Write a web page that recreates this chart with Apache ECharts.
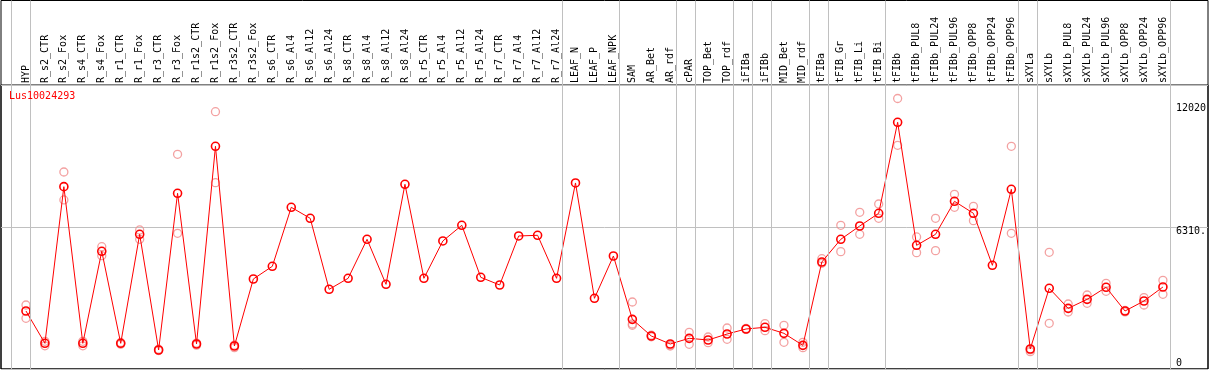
<!DOCTYPE html>
<html><head><meta charset="utf-8">
<script src="https://cdn.jsdelivr.net/npm/echarts@6/dist/echarts.min.js"></script>
<style>html,body{margin:0;padding:0;background:#fff}#c{width:1209px;height:370px}</style>
</head><body><div id="c"></div>
<script>
const TITLE = 'Lus10024293';
const CATEGORIES = ['HYP','R_s2_CTR','R_s2_Fox','R_s4_CTR','R_s4_Fox','R_r1_CTR','R_r1_Fox','R_r3_CTR','R_r3_Fox','R_r1s2_CTR','R_r1s2_Fox','R_r3s2_CTR','R_r3s2_Fox','R_s6_CTR','R_s6_Al4','R_s6_Al12','R_s6_Al24','R_s8_CTR','R_s8_Al4','R_s8_Al12','R_s8_Al24','R_r5_CTR','R_r5_Al4','R_r5_Al12','R_r5_Al24','R_r7_CTR','R_r7_Al4','R_r7_Al12','R_r7_Al24','LEAF_N','LEAF_P','LEAF_NPK','SAM','AR_Bet','AR_rdf','cPAR','TOP_Bet','TOP_rdf','iFIBa','iFIBb','MID_Bet','MID_rdf','tFIBa','tFIB_Gr','tFIB_Li','tFIB_Bi','tFIBb','tFIBb_PUL8','tFIBb_PUL24','tFIBb_PUL96','tFIBb_OPP8','tFIBb_OPP24','tFIBb_OPP96','sXYLa','sXYLb','sXYLb_PUL8','sXYLb_PUL24','sXYLb_PUL96','sXYLb_OPP8','sXYLb_OPP24','sXYLb_OPP96'];
const MEAN = [2578,1141,8102,1141,5230,1141,5985,844,7807,1111,9896,1022,4000,4563,7185,6696,3541,4030,5763,3763,8207,4030,5689,6385,4074,3733,5911,5941,4030,8267,3141,5022,2207,1467,1111,1363,1289,1555,1778,1852,1585,1052,4755,5763,6355,6918,10963,5496,5985,7452,6918,4607,7985,889,3585,2696,3096,3630,2578,3022,3644];
const REP_A = [2844,1230,8755,1230,5436,1180,6178,880,9541,1150,11435,1060,null,null,null,null,null,null,null,null,null,null,null,null,null,null,null,null,null,null,null,null,2978,1500,1060,1630,1422,1822,1800,2015,1941,1185,4903,6385,6963,7333,12020,5867,6696,7763,7230,null,9896,770,5185,2889,3289,3807,2600,3170,3941];
const REP_B = [2252,1030,7511,1030,5036,1100,5763,820,6030,1060,8280,950,null,null,null,null,null,null,null,null,null,null,null,null,null,null,null,null,null,null,null,null,2000,1430,1020,1096,1170,1319,1760,1704,1185,948,4700,5215,5985,6696,9941,5170,5259,7185,6592,null,6030,850,2030,2533,2918,3452,2540,2844,3319];
const REP_C = [null,null,null,null,null,null,null,null,null,null,null,null,null,null,null,null,null,null,null,null,null,null,null,null,null,null,null,null,null,null,null,null,1941,null,null,null,null,null,null,null,null,null,null,null,null,null,null,null,null,null,null,null,null,null,null,null,null,null,null,null,null];
const GROUP_ENDS = [-1,0,28,31,34,35,37,38,39,41,42,45,52,53,60];
const Y_MAX = 12620;
const Y_GRID_STEP = 6310;
const Y_TICK_VALUES = [12020, 6310, 0];
const Y_TICK_LABELS = ['12020', '6310.', '0'];

const FONT = 'DejaVu Sans Mono';
const X0 = 26, STEP = 19, TOP = 85, BOTTOM = 1;
const FRAME_L = 1, FRAME_R = 1208;
const SEP_OFFSET = 0.24;
const LABEL_ALIGN = [
  {verticalAlign: 'top', lineHeight: 19},
  {verticalAlign: 'top', lineHeight: 8},
  {verticalAlign: 'bottom', lineHeight: 12}
];

const chart = echarts.init(document.getElementById('c'), null, {renderer: 'canvas'});
const hiddenAxis = {show: false, splitLine: {show: false}};
const dataLeft = X0 - STEP / 2;

const yAxes = [
  Object.assign({type: 'value', gridIndex: 0, min: 0, max: 1}, hiddenAxis),
  Object.assign({type: 'value', gridIndex: 1, min: 0, max: Y_MAX}, hiddenAxis),
  {type: 'value', gridIndex: 2, min: 0, max: Y_MAX, interval: Y_GRID_STEP,
   axisLine: {show: false}, axisTick: {show: false}, axisLabel: {show: false},
   splitLine: {show: true, lineStyle: {color: '#c0c0c0', width: 1}}}
];
Y_TICK_VALUES.forEach((v, i) => {
  yAxes.push({
    type: 'value', gridIndex: 1, min: 0, max: Y_MAX, position: 'right',
    axisLine: {show: false}, axisTick: {show: false}, splitLine: {show: false},
    axisLabel: Object.assign({
      show: true, customValues: [v], formatter: () => Y_TICK_LABELS[i],
      margin: 3.5, color: '#000', fontFamily: FONT, fontSize: 10, align: 'left'
    }, LABEL_ALIGN[i])
  });
});

const repSeries = (data, name) => ({
  name, type: 'scatter', xAxisIndex: 1, yAxisIndex: 1, data,
  symbol: 'circle', symbolSize: 8, z: 3,
  itemStyle: {color: 'rgba(0,0,0,0)', borderColor: '#f08a8a', borderWidth: 1.3}
});

chart.setOption({
  animation: false,
  backgroundColor: '#fff',
  title: {text: TITLE, left: 9, top: 91, padding: 0,
    textStyle: {color: '#ff0000', fontSize: 10, fontFamily: FONT, fontWeight: 'normal'}},
  grid: [
    {left: FRAME_L, width: FRAME_R - FRAME_L, top: 0.5, bottom: BOTTOM, show: true, borderColor: '#000', borderWidth: 1, backgroundColor: 'transparent'},
    {left: dataLeft, width: CATEGORIES.length * STEP, top: TOP, bottom: BOTTOM},
    {left: FRAME_L, width: FRAME_R - FRAME_L, top: TOP, bottom: BOTTOM, show: true, borderColor: '#000', borderWidth: 1, backgroundColor: 'transparent'}
  ],
  xAxis: [
    Object.assign({type: 'value', gridIndex: 0, min: (FRAME_L - X0) / STEP, max: (FRAME_R - X0) / STEP}, hiddenAxis),
    {type: 'category', gridIndex: 1, data: CATEGORIES, position: 'top', boundaryGap: true,
     axisLine: {show: false}, axisTick: {show: false}, splitLine: {show: false},
     axisLabel: {interval: 0, rotate: 90, margin: 2, color: '#000', fontFamily: FONT, fontSize: 10}},
    Object.assign({type: 'value', gridIndex: 2, min: 0, max: 1}, hiddenAxis)
  ],
  yAxis: yAxes,
  series: [
    {type: 'line', xAxisIndex: 0, yAxisIndex: 0, data: [], silent: true,
     markLine: {silent: true, symbol: ['none', 'none'], label: {show: false},
       lineStyle: {color: '#c0c0c0', width: 1, type: 'solid'},
       data: GROUP_ENDS.map(k => ({xAxis: k + SEP_OFFSET}))}},
    repSeries(REP_A, 'repA'), repSeries(REP_B, 'repB'), repSeries(REP_C, 'repC'),
    {name: 'mean', type: 'line', xAxisIndex: 1, yAxisIndex: 1, data: MEAN,
     symbol: 'circle', symbolSize: 8, showAllSymbol: true, z: 4,
     lineStyle: {color: '#ff0000', width: 1},
     itemStyle: {color: 'rgba(255,0,0,0)', borderColor: '#ff0000', borderWidth: 1.6}}
  ]
});
</script></body></html>
